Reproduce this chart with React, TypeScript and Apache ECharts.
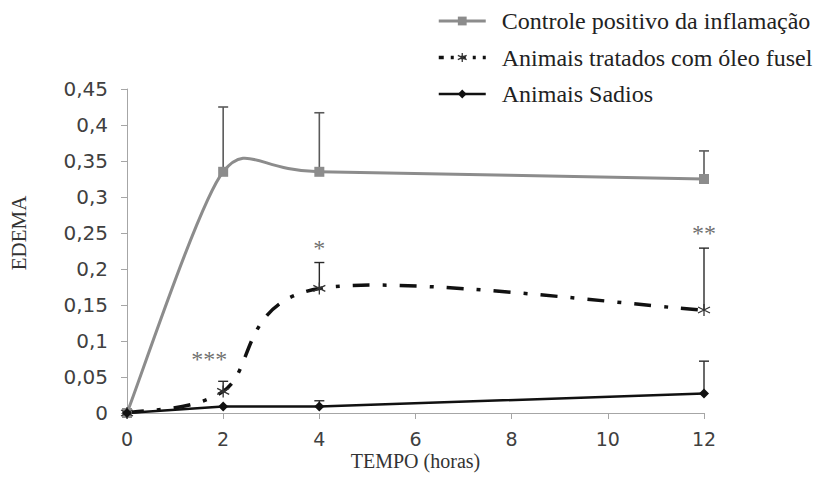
import React, { useEffect, useRef } from "react";
import * as echarts from "echarts";

// Tempo (horas) e médias de edema por grupo
const hours = [0, 2, 4, 12];
const controleMean = [0, 0.335, 0.335, 0.325];
const controleSd = [0, 0.09, 0.082, 0.039];
const tratadosMean = [0, 0.03, 0.173, 0.143];
const tratadosSd = [0, 0.014, 0.036, 0.086];
const sadiosMean = [0, 0.009, 0.009, 0.027];
const sadiosSd = [0, 0, 0.008, 0.045];

const seriesNames = [
  "Controle positivo da inflamação",
  "Animais tratados com óleo fusel",
  "Animais Sadios",
];

// Marcadores de significância estatística: [hora, posição, texto]
const significance: [number, number, string][] = [
  [1.71, 0.075, "***"],
  [4, 0.229, "*"],
  [12, 0.25, "**"],
];

const xTicks = [0, 2, 4, 6, 8, 10, 12];
const yTickLabels = ["0", "0,05", "0,1", "0,15", "0,2", "0,25", "0,3", "0,35", "0,4", "0,45"];

const ASTERISK = "path://M6,0L6,12M0.8,3L11.2,9M0.8,9L11.2,3";

const GRAY = "#8c8c8c";
const BLACK = "#111111";
const SERIF = "Liberation Serif";

// Curva suavizada (Catmull-Rom) passando pelos pontos em pixels
function smoothPath(pts: number[][], k: number): string {
  const n = pts.length;
  let d = `M${pts[0][0]},${pts[0][1]}`;
  for (let i = 0; i < n - 1; i++) {
    const p0 = pts[Math.max(i - 1, 0)];
    const p1 = pts[i];
    const p2 = pts[i + 1];
    const p3 = pts[Math.min(i + 2, n - 1)];
    const c1x = p1[0] + (p2[0] - p0[0]) / k;
    const c1y = p1[1] + (p2[1] - p0[1]) / k;
    const c2x = p2[0] - (p3[0] - p1[0]) / k;
    const c2y = p2[1] - (p3[1] - p1[1]) / k;
    d += ` C${c1x},${c1y} ${c2x},${c2y} ${p2[0]},${p2[1]}`;
  }
  return d;
}

function curveSeries(name: string, values: number[], k: number, style: any) {
  return {
    type: "custom",
    name,
    silent: true,
    data: [[0, 0]],
    renderItem: (_p: any, api: any) => {
      const pts = hours.map((h, i) => api.coord([h, values[i]]));
      return {
        type: "path",
        shape: { pathData: smoothPath(pts, k) },
        style: { fill: "none", ...style },
      };
    },
    z: 2,
  };
}

function errorSeries(name: string, mean: number[], sd: number[], color: string, width: number) {
  return {
    type: "custom",
    name,
    silent: true,
    data: hours.map((h, i) => [h, mean[i], sd[i]]),
    renderItem: (_p: any, api: any) => {
      const x = api.value(0);
      const m = api.value(1);
      const s = api.value(2);
      if (!(s > 0)) return { type: "group", children: [] };
      const a = api.coord([x, m]);
      const b = api.coord([x, m + s]);
      const style = { stroke: color, lineWidth: width };
      return {
        type: "group",
        children: [
          { type: "line", shape: { x1: a[0], y1: a[1], x2: b[0], y2: b[1] }, style },
          { type: "line", shape: { x1: b[0] - 5, y1: b[1], x2: b[0] + 5, y2: b[1] }, style },
        ],
      };
    },
    z: 3,
  };
}

export default function App() {
  const ref = useRef<HTMLDivElement>(null);

  useEffect(() => {
    if (!ref.current) return;
    const chart = echarts.init(ref.current, undefined, { renderer: "svg" });

    const tickLabelStyle = {
      fontFamily: "DejaVu Sans",
      fontSize: 20,
      color: "#404040",
    };
    const axisLineStyle = { color: "#a6a6a6", width: 1 };
    const legendRich = {
      t: {
        fontFamily: SERIF,
        fontSize: 24,
        lineHeight: 22,
        color: "#222222",
        padding: [0, 0, 0, 11],
      },
    };

    chart.setOption({
      animation: false,
      backgroundColor: "#ffffff",
      textStyle: { fontFamily: SERIF },
      grid: { left: 127, right: 126, top: 89, bottom: 79, containLabel: false },
      legend: {
        orient: "vertical",
        left: 432,
        top: 4,
        itemWidth: 47,
        itemHeight: 11,
        itemGap: 12.5,
        formatter: "{t|{name}}",
        textStyle: { fontFamily: SERIF, fontSize: 24, color: "#222222", rich: legendRich },
        data: [
          {
            name: seriesNames[0],
            itemStyle: { color: GRAY, borderWidth: 0, opacity: 1 },
            lineStyle: { color: GRAY, width: 3, opacity: 1, type: "solid" },
          },
          {
            name: seriesNames[1],
            itemStyle: { color: "#333333", borderColor: "#333333", borderWidth: 1.3, opacity: 1 },
            lineStyle: { color: BLACK, width: 3.5, opacity: 1, type: [5, 7, 3, 7] },
          },
          {
            name: seriesNames[2],
            itemStyle: { color: BLACK, borderWidth: 0, opacity: 1 },
            lineStyle: { color: BLACK, width: 2.5, opacity: 1, type: "solid" },
          },
        ],
      },
      xAxis: {
        type: "value",
        min: 0,
        max: 12,
        interval: 2,
        name: "TEMPO (horas)",
        nameLocation: "middle",
        nameGap: 40,
        nameMoveOverlap: false,
        nameTextStyle: { fontFamily: SERIF, fontSize: 20, lineHeight: 16, color: "#333333" },
        axisLine: { show: true, lineStyle: axisLineStyle },
        axisTick: { show: true, length: 6, lineStyle: axisLineStyle },
        splitLine: { show: false },
        axisLabel: {
          ...tickLabelStyle,
          fontSize: 19,
          lineHeight: 14,
          margin: 19,
          formatter: (v: number) => (xTicks.includes(v) ? String(v) : ""),
        },
      },
      yAxis: {
        type: "value",
        min: 0,
        max: 0.45,
        interval: 0.05,
        name: "EDEMA",
        nameLocation: "middle",
        nameRotate: 90,
        nameGap: 98,
        nameMoveOverlap: false,
        nameTextStyle: {
          fontFamily: SERIF,
          fontSize: 21,
          color: "#333333",
          padding: [0, 0, 0, 36],
        },
        axisLine: { show: true, lineStyle: axisLineStyle },
        axisTick: { show: true, length: 6, lineStyle: axisLineStyle },
        splitLine: { show: false },
        axisLabel: {
          ...tickLabelStyle,
          margin: 19,
          formatter: (v: number) => yTickLabels[Math.round(v / 0.05)] ?? "",
        },
      },
      series: [
        curveSeries("curva-controle", controleMean, 8, {
          stroke: GRAY,
          lineWidth: 3,
        }),
        curveSeries("curva-tratados", tratadosMean, 6, {
          stroke: BLACK,
          lineWidth: 3.5,
          lineDash: [17, 13, 4, 13],
          lineCap: "butt",
        }),
        errorSeries("erro-controle", controleMean, controleSd, "#5a5a5a", 1.6),
        errorSeries("erro-tratados", tratadosMean, tratadosSd, "#2a2a2a", 1.4),
        errorSeries("erro-sadios", sadiosMean, sadiosSd, "#2a2a2a", 1.4),
        {
          type: "line",
          name: seriesNames[0],
          data: hours.map((h, i) => [h, controleMean[i]]),
          symbol: "rect",
          symbolSize: 10,
          itemStyle: { color: GRAY },
          lineStyle: { color: GRAY, width: 3, opacity: 0 },
          z: 4,
        },
        {
          type: "line",
          name: seriesNames[1],
          data: hours.map((h, i) => [h, tratadosMean[i]]),
          symbol: ASTERISK,
          symbolSize: 12,
          itemStyle: { color: "#333333", borderColor: "#333333", borderWidth: 1.3 },
          lineStyle: { color: BLACK, width: 3.5, opacity: 0 },
          z: 4,
        },
        {
          type: "line",
          name: seriesNames[2],
          data: hours.map((h, i) => [h, sadiosMean[i]]),
          symbol: "diamond",
          symbolSize: 10,
          itemStyle: { color: BLACK },
          lineStyle: { color: BLACK, width: 2.5 },
          z: 4,
        },
        {
          type: "scatter",
          name: "significancia",
          silent: true,
          data: significance.map(([x, y, t]) => ({ value: [x, y], label: { formatter: t } })),
          symbolSize: 1,
          itemStyle: { color: "rgba(0,0,0,0)" },
          label: {
            show: true,
            position: "inside",
            fontFamily: SERIF,
            fontSize: 24,
            color: "#4a4a4a",
          },
          z: 5,
        },
      ],
    });

    return () => chart.dispose();
  }, []);

  return (
    <div
      ref={ref}
      style={{ position: "absolute", left: 0, top: 0, width: 830, height: 492 }}
    />
  );
}
